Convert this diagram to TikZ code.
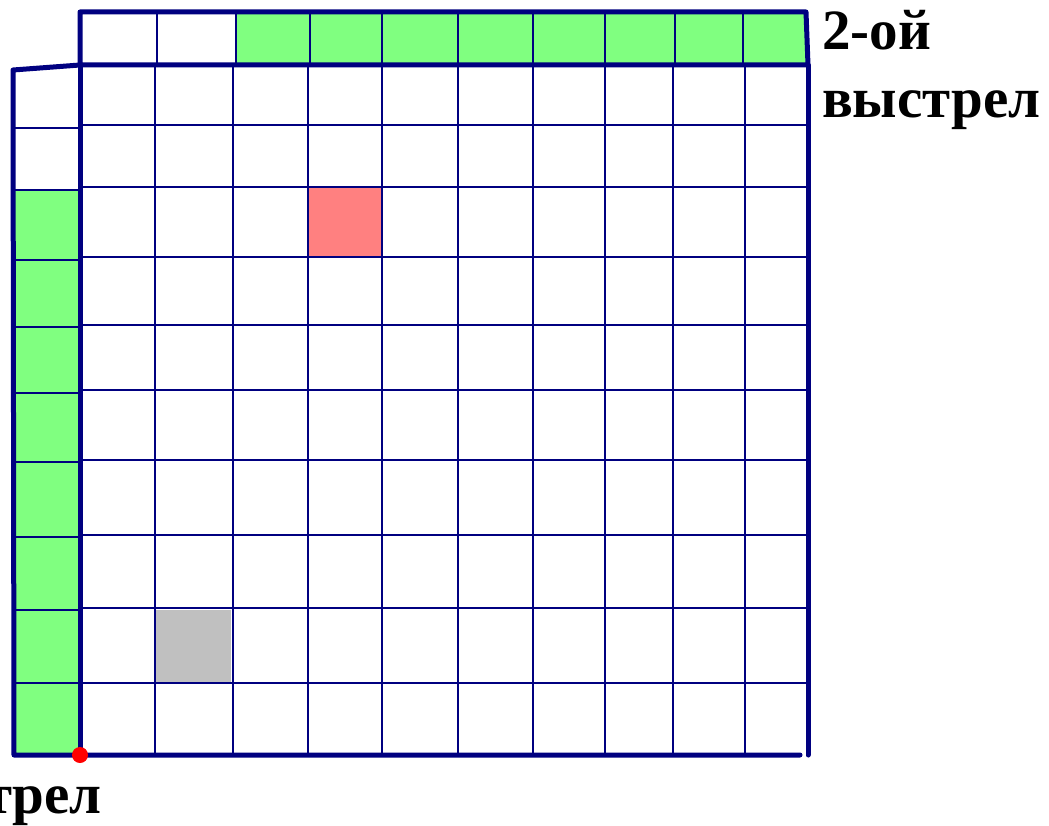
\documentclass[tikz,border=0pt]{standalone}
\usepackage{fontspec}
\setmainfont{Liberation Serif}
\begin{document}
\begin{tikzpicture}[x=1pt,y=-1pt,
  thinline/.style={draw=gridblue,line width=1.8pt},
  thickline/.style={draw=gridblue,line width=5pt,line cap=round,line join=round},
  lbl/.style={font=\fontsize{57}{68}\selectfont\bfseries,inner sep=0pt,text=black}]
\definecolor{gridblue}{RGB}{0,0,128}
\definecolor{cellgreen}{RGB}{128,255,128}
\definecolor{cellred}{RGB}{255,128,128}
\definecolor{cellgray}{RGB}{192,192,192}
\useasboundingbox (0,0) rectangle (1049,826);
\clip (0,0) rectangle (1049,826);
% fills
\fill[cellgreen] (236,12) rectangle (808,65);
\fill[cellgreen] (13,190) rectangle (80,755);
\fill[cellred] (308,188) rectangle (381,257);
\fill[cellgray] (155,610) rectangle (231,683);
% thin lines: main grid
\foreach \x in {155,233,308,382,458,533,605,673,745} \draw[thinline] (\x,65) -- (\x,755);
\foreach \x in {157,236,310,382,458,533,605,675,743} \draw[thinline] (\x,12) -- (\x,65);
\foreach \y in {125,187,257,325,390,460,535,608,683} \draw[thinline] (80,\y) -- (808,\y);
\foreach \y in {128,190,260,327,393,462,537,610,683} \draw[thinline] (13,\y) -- (80,\y);
% thick borders
\draw[thickline] (80,65) -- (80,12) -- (806,12) -- (808,65) -- (80,65);
\draw[thickline] (808,65) -- (808,755);
\draw[thickline] (80,65) -- (13,70) -- (14,755) -- (800,755);
\draw[thickline] (80,65) -- (80,755);
% red dot
\fill[red] (80,755) circle (8);
% labels
\node[lbl,anchor=base west] (t2a) at (822,50) {2-ой};
\node[lbl,anchor=base west] (t2b) at (822,118) {выстрел};
\node[lbl,anchor=base east] (t1) at (102,813) {трел};
\end{tikzpicture}
\end{document}
